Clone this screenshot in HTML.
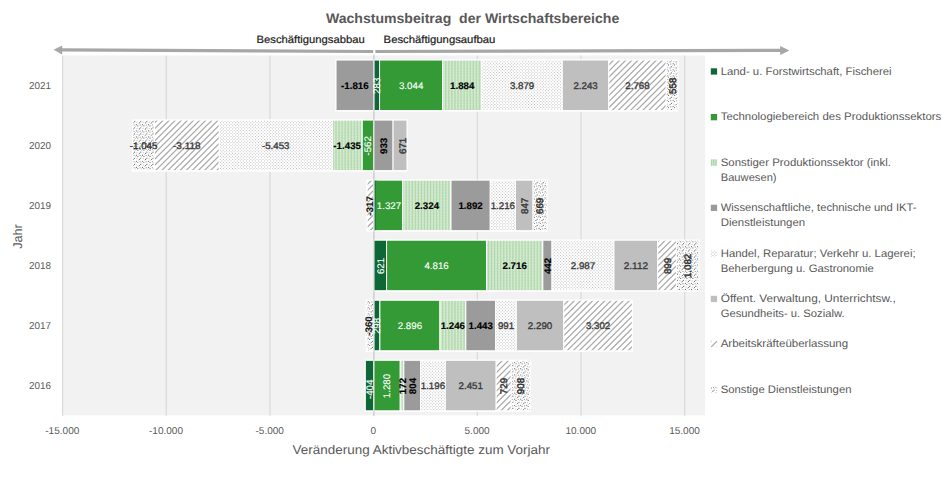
<!DOCTYPE html>
<html lang="de"><head><meta charset="utf-8"><title>Wachstumsbeitrag der Wirtschaftsbereiche</title>
<style>html,body{margin:0;padding:0;background:#fff;}body{width:945px;height:477px;overflow:hidden;font-family:"Liberation Sans",sans-serif;}svg{display:block;}</style></head>
<body>
<svg width="945" height="477" viewBox="0 0 945 477" font-family="'Liberation Sans', sans-serif" text-rendering="geometricPrecision">
<defs>
<g id="sd0">
<circle cx="0.40" cy="5.80" r="0.58" fill="#6c6c6c"/>
<circle cx="5.20" cy="0.80" r="0.58" fill="#6c6c6c"/>
<circle cx="2.20" cy="2.70" r="0.58" fill="#6c6c6c"/>
<circle cx="3.60" cy="3.90" r="0.58" fill="#6c6c6c"/>
<circle cx="2.80" cy="0.20" r="0.5" fill="#a2a2a2"/>
<circle cx="5.91" cy="3.10" r="0.5" fill="#a2a2a2"/>
<circle cx="5.90" cy="3.10" r="0.5" fill="#a2a2a2"/>
<circle cx="1.30" cy="4.30" r="0.45" fill="#a2a2a2"/>
<circle cx="4.10" cy="1.80" r="0.4" fill="#a2a2a2"/>
</g>
<g id="sd1"><use href="#sd0" x="-6.10"/><use href="#sd0" x="0.00"/><use href="#sd0" x="6.10"/><use href="#sd0" x="12.20"/><use href="#sd0" x="18.30"/><use href="#sd0" x="24.40"/><use href="#sd0" x="30.50"/><use href="#sd0" x="36.60"/><use href="#sd0" x="42.70"/><use href="#sd0" x="48.80"/><use href="#sd0" x="54.90"/><use href="#sd0" x="61.00"/></g>
<pattern id="pSdl" width="61" height="61" patternUnits="userSpaceOnUse"><rect width="61" height="61" fill="#ffffff"/><use href="#sd1" y="-6.10"/><use href="#sd1" y="0.00"/><use href="#sd1" y="6.10"/><use href="#sd1" y="12.20"/><use href="#sd1" y="18.30"/><use href="#sd1" y="24.40"/><use href="#sd1" y="30.50"/><use href="#sd1" y="36.60"/><use href="#sd1" y="42.70"/><use href="#sd1" y="48.80"/><use href="#sd1" y="54.90"/><use href="#sd1" y="61.00"/></pattern>
<pattern id="pArbk" width="61" height="61" patternUnits="userSpaceOnUse"><rect width="61" height="61" fill="#ffffff"/><path d="M-65.30,62 L-2.30,-1 M-59.20,62 L3.80,-1 M-53.10,62 L9.90,-1 M-47.00,62 L16.00,-1 M-40.90,62 L22.10,-1 M-34.80,62 L28.20,-1 M-28.70,62 L34.30,-1 M-22.60,62 L40.40,-1 M-16.50,62 L46.50,-1 M-10.40,62 L52.60,-1 M-4.30,62 L58.70,-1 M1.80,62 L64.80,-1 M7.90,62 L70.90,-1 M14.00,62 L77.00,-1 M20.10,62 L83.10,-1 M26.20,62 L89.20,-1 M32.30,62 L95.30,-1 M38.40,62 L101.40,-1 M44.50,62 L107.50,-1 M50.60,62 L113.60,-1 M56.70,62 L119.70,-1 M62.80,62 L125.80,-1 M68.90,62 L131.90,-1 " stroke="#ababab" stroke-width="1.25" fill="none"/></pattern>
<g id="hd0"><rect x="0.3" y="0.3" width="0.95" height="0.95"/><rect x="1.82" y="1.82" width="0.95" height="0.95"/></g>
<g id="hd1"><use href="#hd0" x="0.00"/><use href="#hd0" x="3.05"/><use href="#hd0" x="6.10"/><use href="#hd0" x="9.15"/><use href="#hd0" x="12.20"/><use href="#hd0" x="15.25"/><use href="#hd0" x="18.30"/><use href="#hd0" x="21.35"/><use href="#hd0" x="24.40"/><use href="#hd0" x="27.45"/><use href="#hd0" x="30.50"/><use href="#hd0" x="33.55"/><use href="#hd0" x="36.60"/><use href="#hd0" x="39.65"/><use href="#hd0" x="42.70"/><use href="#hd0" x="45.75"/><use href="#hd0" x="48.80"/><use href="#hd0" x="51.85"/><use href="#hd0" x="54.90"/><use href="#hd0" x="57.95"/></g>
<pattern id="pHand" width="61" height="61" patternUnits="userSpaceOnUse"><rect width="61" height="61" fill="#ffffff"/><g fill="#bcbcbc"><use href="#hd1" y="0.00"/><use href="#hd1" y="3.05"/><use href="#hd1" y="6.10"/><use href="#hd1" y="9.15"/><use href="#hd1" y="12.20"/><use href="#hd1" y="15.25"/><use href="#hd1" y="18.30"/><use href="#hd1" y="21.35"/><use href="#hd1" y="24.40"/><use href="#hd1" y="27.45"/><use href="#hd1" y="30.50"/><use href="#hd1" y="33.55"/><use href="#hd1" y="36.60"/><use href="#hd1" y="39.65"/><use href="#hd1" y="42.70"/><use href="#hd1" y="45.75"/><use href="#hd1" y="48.80"/><use href="#hd1" y="51.85"/><use href="#hd1" y="54.90"/><use href="#hd1" y="57.95"/></g></pattern>
<g id="pd0"><rect x="1.40" y="0.2" width="1.3" height="1.0"/><rect x="4.45" y="0.2" width="1.3" height="1.0"/><rect x="7.50" y="0.2" width="1.3" height="1.0"/><rect x="10.55" y="0.2" width="1.3" height="1.0"/><rect x="13.60" y="0.2" width="1.3" height="1.0"/><rect x="16.65" y="0.2" width="1.3" height="1.0"/><rect x="19.70" y="0.2" width="1.3" height="1.0"/><rect x="22.75" y="0.2" width="1.3" height="1.0"/><rect x="25.80" y="0.2" width="1.3" height="1.0"/><rect x="28.85" y="0.2" width="1.3" height="1.0"/><rect x="31.90" y="0.2" width="1.3" height="1.0"/><rect x="34.95" y="0.2" width="1.3" height="1.0"/><rect x="38.00" y="0.2" width="1.3" height="1.0"/><rect x="41.05" y="0.2" width="1.3" height="1.0"/><rect x="44.10" y="0.2" width="1.3" height="1.0"/><rect x="47.15" y="0.2" width="1.3" height="1.0"/><rect x="50.20" y="0.2" width="1.3" height="1.0"/><rect x="53.25" y="0.2" width="1.3" height="1.0"/><rect x="56.30" y="0.2" width="1.3" height="1.0"/><rect x="59.35" y="0.2" width="1.3" height="1.0"/></g>
<pattern id="pProd" width="61" height="61" patternUnits="userSpaceOnUse"><rect width="61" height="61" fill="#c5e2c1"/><rect x="0.00" y="0" width="1.0" height="61" fill="#b0d8ac"/><rect x="3.05" y="0" width="1.0" height="61" fill="#b0d8ac"/><rect x="6.10" y="0" width="1.0" height="61" fill="#b0d8ac"/><rect x="9.15" y="0" width="1.0" height="61" fill="#b0d8ac"/><rect x="12.20" y="0" width="1.0" height="61" fill="#b0d8ac"/><rect x="15.25" y="0" width="1.0" height="61" fill="#b0d8ac"/><rect x="18.30" y="0" width="1.0" height="61" fill="#b0d8ac"/><rect x="21.35" y="0" width="1.0" height="61" fill="#b0d8ac"/><rect x="24.40" y="0" width="1.0" height="61" fill="#b0d8ac"/><rect x="27.45" y="0" width="1.0" height="61" fill="#b0d8ac"/><rect x="30.50" y="0" width="1.0" height="61" fill="#b0d8ac"/><rect x="33.55" y="0" width="1.0" height="61" fill="#b0d8ac"/><rect x="36.60" y="0" width="1.0" height="61" fill="#b0d8ac"/><rect x="39.65" y="0" width="1.0" height="61" fill="#b0d8ac"/><rect x="42.70" y="0" width="1.0" height="61" fill="#b0d8ac"/><rect x="45.75" y="0" width="1.0" height="61" fill="#b0d8ac"/><rect x="48.80" y="0" width="1.0" height="61" fill="#b0d8ac"/><rect x="51.85" y="0" width="1.0" height="61" fill="#b0d8ac"/><rect x="54.90" y="0" width="1.0" height="61" fill="#b0d8ac"/><rect x="57.95" y="0" width="1.0" height="61" fill="#b0d8ac"/><g fill="#dbeed8"><use href="#pd0" y="0.000"/><use href="#pd0" y="1.525"/><use href="#pd0" y="3.050"/><use href="#pd0" y="4.575"/><use href="#pd0" y="6.100"/><use href="#pd0" y="7.625"/><use href="#pd0" y="9.150"/><use href="#pd0" y="10.675"/><use href="#pd0" y="12.200"/><use href="#pd0" y="13.725"/><use href="#pd0" y="15.250"/><use href="#pd0" y="16.775"/><use href="#pd0" y="18.300"/><use href="#pd0" y="19.825"/><use href="#pd0" y="21.350"/><use href="#pd0" y="22.875"/><use href="#pd0" y="24.400"/><use href="#pd0" y="25.925"/><use href="#pd0" y="27.450"/><use href="#pd0" y="28.975"/><use href="#pd0" y="30.500"/><use href="#pd0" y="32.025"/><use href="#pd0" y="33.550"/><use href="#pd0" y="35.075"/><use href="#pd0" y="36.600"/><use href="#pd0" y="38.125"/><use href="#pd0" y="39.650"/><use href="#pd0" y="41.175"/><use href="#pd0" y="42.700"/><use href="#pd0" y="44.225"/><use href="#pd0" y="45.750"/><use href="#pd0" y="47.275"/><use href="#pd0" y="48.800"/><use href="#pd0" y="50.325"/><use href="#pd0" y="51.850"/><use href="#pd0" y="53.375"/><use href="#pd0" y="54.900"/><use href="#pd0" y="56.425"/><use href="#pd0" y="57.950"/><use href="#pd0" y="59.475"/></g></pattern>
</defs>
<rect width="945" height="477" fill="#ffffff"/>
<rect x="61.9" y="55.5" width="643.2" height="359.8" fill="#f2f2f2"/>
<rect x="62.00" y="55.5" width="1.2" height="360.40000000000003" fill="#dadada"/>
<rect x="165.68" y="55.5" width="1.2" height="360.40000000000003" fill="#dadada"/>
<rect x="269.36" y="55.5" width="1.2" height="360.40000000000003" fill="#dadada"/>
<rect x="373.04" y="55.5" width="1.2" height="360.40000000000003" fill="#dadada"/>
<rect x="476.72" y="55.5" width="1.2" height="360.40000000000003" fill="#dadada"/>
<rect x="580.40" y="55.5" width="1.2" height="360.40000000000003" fill="#dadada"/>
<rect x="684.08" y="55.5" width="1.2" height="360.40000000000003" fill="#dadada"/>
<rect x="335.53" y="59.53" width="342.77" height="52.14" fill="#ffffff"/>
<rect x="373.70" y="60.03" width="5.87" height="50.54" fill="#0d6737" stroke="#ffffff" stroke-width="1.0"/>
<rect x="379.57" y="60.03" width="63.15" height="50.54" fill="#339a35" stroke="#ffffff" stroke-width="1.0"/>
<rect x="442.72" y="60.03" width="39.08" height="50.54" fill="url(#pProd)" stroke="#ffffff" stroke-width="1.0"/>
<rect x="336.03" y="60.03" width="37.67" height="50.54" fill="#9b9b9b" stroke="#ffffff" stroke-width="1.0"/>
<rect x="481.80" y="60.03" width="80.47" height="50.54" fill="url(#pHand)" stroke="#ffffff" stroke-width="1.0"/>
<rect x="562.27" y="60.03" width="46.53" height="50.54" fill="#bfbfbf" stroke="#ffffff" stroke-width="1.0"/>
<rect x="608.80" y="60.03" width="57.42" height="50.54" fill="url(#pArbk)" stroke="#ffffff" stroke-width="1.0"/>
<rect x="666.23" y="60.03" width="11.58" height="50.54" fill="url(#pSdl)" stroke="#ffffff" stroke-width="1.0"/>
<rect x="132.29" y="119.58" width="275.19" height="52.14" fill="#ffffff"/>
<rect x="362.04" y="120.08" width="11.66" height="50.54" fill="#339a35" stroke="#ffffff" stroke-width="1.0"/>
<rect x="332.27" y="120.08" width="29.77" height="50.54" fill="url(#pProd)" stroke="#ffffff" stroke-width="1.0"/>
<rect x="373.70" y="120.08" width="19.36" height="50.54" fill="#9b9b9b" stroke="#ffffff" stroke-width="1.0"/>
<rect x="219.15" y="120.08" width="113.12" height="50.54" fill="url(#pHand)" stroke="#ffffff" stroke-width="1.0"/>
<rect x="393.06" y="120.08" width="13.92" height="50.54" fill="#bfbfbf" stroke="#ffffff" stroke-width="1.0"/>
<rect x="154.47" y="120.08" width="64.68" height="50.54" fill="url(#pArbk)" stroke="#ffffff" stroke-width="1.0"/>
<rect x="132.79" y="120.08" width="21.68" height="50.54" fill="url(#pSdl)" stroke="#ffffff" stroke-width="1.0"/>
<rect x="366.62" y="179.63" width="180.80" height="52.14" fill="#ffffff"/>
<rect x="373.70" y="180.13" width="1.56" height="50.54" fill="#0d6737" stroke="#ffffff" stroke-width="1.0"/>
<rect x="375.26" y="180.13" width="27.53" height="50.54" fill="#339a35" stroke="#ffffff" stroke-width="1.0"/>
<rect x="374.70" y="180.63" width="2.2" height="49.54" fill="#339a35"/>
<rect x="374.35" y="180.63" width="1.2" height="49.54" fill="#0d6737"/>
<rect x="402.78" y="180.13" width="48.21" height="50.54" fill="url(#pProd)" stroke="#ffffff" stroke-width="1.0"/>
<rect x="451.00" y="180.13" width="39.25" height="50.54" fill="#9b9b9b" stroke="#ffffff" stroke-width="1.0"/>
<rect x="490.25" y="180.13" width="25.23" height="50.54" fill="url(#pHand)" stroke="#ffffff" stroke-width="1.0"/>
<rect x="515.47" y="180.13" width="17.57" height="50.54" fill="#bfbfbf" stroke="#ffffff" stroke-width="1.0"/>
<rect x="367.12" y="180.13" width="6.58" height="50.54" fill="url(#pArbk)" stroke="#ffffff" stroke-width="1.0"/>
<rect x="533.04" y="180.13" width="13.88" height="50.54" fill="url(#pSdl)" stroke="#ffffff" stroke-width="1.0"/>
<rect x="373.20" y="239.68" width="326.18" height="52.14" fill="#ffffff"/>
<rect x="373.70" y="240.18" width="12.88" height="50.54" fill="#0d6737" stroke="#ffffff" stroke-width="1.0"/>
<rect x="386.58" y="240.18" width="99.91" height="50.54" fill="#339a35" stroke="#ffffff" stroke-width="1.0"/>
<rect x="486.49" y="240.18" width="56.34" height="50.54" fill="url(#pProd)" stroke="#ffffff" stroke-width="1.0"/>
<rect x="542.83" y="240.18" width="9.17" height="50.54" fill="#9b9b9b" stroke="#ffffff" stroke-width="1.0"/>
<rect x="552.00" y="240.18" width="61.97" height="50.54" fill="url(#pHand)" stroke="#ffffff" stroke-width="1.0"/>
<rect x="613.97" y="240.18" width="43.81" height="50.54" fill="#bfbfbf" stroke="#ffffff" stroke-width="1.0"/>
<rect x="657.78" y="240.18" width="18.65" height="50.54" fill="url(#pArbk)" stroke="#ffffff" stroke-width="1.0"/>
<rect x="676.43" y="240.18" width="22.45" height="50.54" fill="url(#pSdl)" stroke="#ffffff" stroke-width="1.0"/>
<rect x="365.73" y="299.73" width="267.08" height="52.14" fill="#ffffff"/>
<rect x="373.70" y="300.23" width="6.18" height="50.54" fill="#0d6737" stroke="#ffffff" stroke-width="1.0"/>
<rect x="379.88" y="300.23" width="60.08" height="50.54" fill="#339a35" stroke="#ffffff" stroke-width="1.0"/>
<rect x="439.96" y="300.23" width="25.85" height="50.54" fill="url(#pProd)" stroke="#ffffff" stroke-width="1.0"/>
<rect x="465.81" y="300.23" width="29.94" height="50.54" fill="#9b9b9b" stroke="#ffffff" stroke-width="1.0"/>
<rect x="495.74" y="300.23" width="20.56" height="50.54" fill="url(#pHand)" stroke="#ffffff" stroke-width="1.0"/>
<rect x="516.30" y="300.23" width="47.51" height="50.54" fill="#bfbfbf" stroke="#ffffff" stroke-width="1.0"/>
<rect x="563.81" y="300.23" width="68.50" height="50.54" fill="url(#pArbk)" stroke="#ffffff" stroke-width="1.0"/>
<rect x="366.23" y="300.23" width="7.47" height="50.54" fill="url(#pSdl)" stroke="#ffffff" stroke-width="1.0"/>
<rect x="364.82" y="359.78" width="165.80" height="52.14" fill="#ffffff"/>
<rect x="365.32" y="360.28" width="8.38" height="50.54" fill="#0d6737" stroke="#ffffff" stroke-width="1.0"/>
<rect x="373.70" y="360.28" width="26.55" height="50.54" fill="#339a35" stroke="#ffffff" stroke-width="1.0"/>
<rect x="400.25" y="360.28" width="3.57" height="50.54" fill="url(#pProd)" stroke="#ffffff" stroke-width="1.0"/>
<rect x="403.82" y="360.28" width="16.68" height="50.54" fill="#9b9b9b" stroke="#ffffff" stroke-width="1.0"/>
<rect x="420.50" y="360.28" width="24.81" height="50.54" fill="url(#pHand)" stroke="#ffffff" stroke-width="1.0"/>
<rect x="445.31" y="360.28" width="50.85" height="50.54" fill="#bfbfbf" stroke="#ffffff" stroke-width="1.0"/>
<rect x="496.16" y="360.28" width="15.12" height="50.54" fill="url(#pArbk)" stroke="#ffffff" stroke-width="1.0"/>
<rect x="511.28" y="360.28" width="18.84" height="50.54" fill="url(#pSdl)" stroke="#ffffff" stroke-width="1.0"/>
<rect x="373.35" y="54.5" width="1.3" height="361.40000000000003" fill="#cdcdcd" fill-opacity="0.8"/>
<text transform="translate(380.14,85.80) rotate(-90)" font-size="9.6" text-anchor="middle" fill="#ffffff" stroke="#ffffff" stroke-width="0.12" textLength="16.23" lengthAdjust="spacingAndGlyphs">283</text>
<text x="411.14" y="88.50" font-size="9.6" text-anchor="middle" fill="#ffffff" stroke="#ffffff" stroke-width="0.12" textLength="24.33" lengthAdjust="spacingAndGlyphs">3.044</text>
<text x="462.26" y="88.50" font-size="9.6" text-anchor="middle" fill="#000000" font-weight="bold" stroke="#000000" stroke-width="0.15" textLength="24.33" lengthAdjust="spacingAndGlyphs">1.884</text>
<text x="354.86" y="88.50" font-size="9.6" text-anchor="middle" fill="#000000" font-weight="bold" stroke="#000000" stroke-width="0.15" textLength="27.59" lengthAdjust="spacingAndGlyphs">-1.816</text>
<text x="522.04" y="88.50" font-size="9.6" text-anchor="middle" fill="#3c3c3c" stroke="#3c3c3c" stroke-width="0.35" textLength="24.33" lengthAdjust="spacingAndGlyphs">3.879</text>
<text x="585.54" y="88.50" font-size="9.6" text-anchor="middle" fill="#3c3c3c" stroke="#3c3c3c" stroke-width="0.35" textLength="24.33" lengthAdjust="spacingAndGlyphs">2.243</text>
<text x="637.51" y="88.50" font-size="9.6" text-anchor="middle" fill="#3c3c3c" stroke="#3c3c3c" stroke-width="0.35" textLength="24.33" lengthAdjust="spacingAndGlyphs">2.768</text>
<text transform="translate(675.51,85.80) rotate(-90)" font-size="9.6" text-anchor="middle" fill="#303030" stroke="#303030" stroke-width="0.45" textLength="16.23" lengthAdjust="spacingAndGlyphs">558</text>
<text transform="translate(371.37,145.85) rotate(-90)" font-size="9.6" text-anchor="middle" fill="#ffffff" stroke="#ffffff" stroke-width="0.12" textLength="19.49" lengthAdjust="spacingAndGlyphs">-562</text>
<text x="347.16" y="148.55" font-size="9.6" text-anchor="middle" fill="#000000" font-weight="bold" stroke="#000000" stroke-width="0.15" textLength="27.59" lengthAdjust="spacingAndGlyphs">-1.435</text>
<text transform="translate(386.88,145.85) rotate(-90)" font-size="9.6" text-anchor="middle" fill="#000000" font-weight="bold" stroke="#000000" stroke-width="0.15" textLength="16.23" lengthAdjust="spacingAndGlyphs">933</text>
<text x="275.71" y="148.55" font-size="9.6" text-anchor="middle" fill="#3c3c3c" stroke="#3c3c3c" stroke-width="0.35" textLength="27.59" lengthAdjust="spacingAndGlyphs">-5.453</text>
<text transform="translate(406.32,145.85) rotate(-90)" font-size="9.6" text-anchor="middle" fill="#3c3c3c" stroke="#3c3c3c" stroke-width="0.45" textLength="16.23" lengthAdjust="spacingAndGlyphs">671</text>
<text x="186.81" y="148.55" font-size="9.6" text-anchor="middle" fill="#3c3c3c" stroke="#3c3c3c" stroke-width="0.35" textLength="27.59" lengthAdjust="spacingAndGlyphs">-3.118</text>
<text x="143.63" y="148.55" font-size="9.6" text-anchor="middle" fill="#303030" stroke="#303030" stroke-width="0.35" textLength="27.59" lengthAdjust="spacingAndGlyphs">-1.045</text>
<text x="389.02" y="208.60" font-size="9.6" text-anchor="middle" fill="#ffffff" stroke="#ffffff" stroke-width="0.12" textLength="24.33" lengthAdjust="spacingAndGlyphs">1.327</text>
<text x="426.89" y="208.60" font-size="9.6" text-anchor="middle" fill="#000000" font-weight="bold" stroke="#000000" stroke-width="0.15" textLength="24.33" lengthAdjust="spacingAndGlyphs">2.324</text>
<text x="470.62" y="208.60" font-size="9.6" text-anchor="middle" fill="#000000" font-weight="bold" stroke="#000000" stroke-width="0.15" textLength="24.33" lengthAdjust="spacingAndGlyphs">1.892</text>
<text x="502.86" y="208.60" font-size="9.6" text-anchor="middle" fill="#3c3c3c" stroke="#3c3c3c" stroke-width="0.35" textLength="24.33" lengthAdjust="spacingAndGlyphs">1.216</text>
<text transform="translate(527.76,205.90) rotate(-90)" font-size="9.6" text-anchor="middle" fill="#3c3c3c" stroke="#3c3c3c" stroke-width="0.45" textLength="16.23" lengthAdjust="spacingAndGlyphs">847</text>
<text transform="translate(372.61,205.90) rotate(-90)" font-size="9.6" text-anchor="middle" fill="#1a1a1a" font-weight="bold" stroke="#1a1a1a" stroke-width="0.15" textLength="19.49" lengthAdjust="spacingAndGlyphs">-317</text>
<text transform="translate(543.48,205.90) rotate(-90)" font-size="9.6" text-anchor="middle" fill="#303030" stroke="#303030" stroke-width="0.45" textLength="16.23" lengthAdjust="spacingAndGlyphs">669</text>
<text transform="translate(383.64,265.95) rotate(-90)" font-size="9.6" text-anchor="middle" fill="#ffffff" stroke="#ffffff" stroke-width="0.12" textLength="16.23" lengthAdjust="spacingAndGlyphs">621</text>
<text x="436.54" y="268.65" font-size="9.6" text-anchor="middle" fill="#ffffff" stroke="#ffffff" stroke-width="0.12" textLength="24.33" lengthAdjust="spacingAndGlyphs">4.816</text>
<text x="514.66" y="268.65" font-size="9.6" text-anchor="middle" fill="#000000" font-weight="bold" stroke="#000000" stroke-width="0.15" textLength="24.33" lengthAdjust="spacingAndGlyphs">2.716</text>
<text transform="translate(550.92,265.95) rotate(-90)" font-size="9.6" text-anchor="middle" fill="#000000" font-weight="bold" stroke="#000000" stroke-width="0.15" textLength="16.23" lengthAdjust="spacingAndGlyphs">442</text>
<text x="582.99" y="268.65" font-size="9.6" text-anchor="middle" fill="#3c3c3c" stroke="#3c3c3c" stroke-width="0.35" textLength="24.33" lengthAdjust="spacingAndGlyphs">2.987</text>
<text x="635.88" y="268.65" font-size="9.6" text-anchor="middle" fill="#3c3c3c" stroke="#3c3c3c" stroke-width="0.35" textLength="24.33" lengthAdjust="spacingAndGlyphs">2.112</text>
<text transform="translate(670.61,265.95) rotate(-90)" font-size="9.6" text-anchor="middle" fill="#3c3c3c" stroke="#3c3c3c" stroke-width="0.45" textLength="16.23" lengthAdjust="spacingAndGlyphs">899</text>
<text transform="translate(691.15,265.95) rotate(-90)" font-size="9.6" text-anchor="middle" fill="#303030" stroke="#303030" stroke-width="0.45" textLength="24.33" lengthAdjust="spacingAndGlyphs">1.082</text>
<text transform="translate(380.29,326.00) rotate(-90)" font-size="9.6" text-anchor="middle" fill="#ffffff" stroke="#ffffff" stroke-width="0.12" textLength="16.23" lengthAdjust="spacingAndGlyphs">298</text>
<text x="409.92" y="328.70" font-size="9.6" text-anchor="middle" fill="#ffffff" stroke="#ffffff" stroke-width="0.12" textLength="24.33" lengthAdjust="spacingAndGlyphs">2.896</text>
<text x="452.88" y="328.70" font-size="9.6" text-anchor="middle" fill="#000000" font-weight="bold" stroke="#000000" stroke-width="0.15" textLength="24.33" lengthAdjust="spacingAndGlyphs">1.246</text>
<text x="480.78" y="328.70" font-size="9.6" text-anchor="middle" fill="#000000" font-weight="bold" stroke="#000000" stroke-width="0.15" textLength="24.33" lengthAdjust="spacingAndGlyphs">1.443</text>
<text x="506.02" y="328.70" font-size="9.6" text-anchor="middle" fill="#3c3c3c" stroke="#3c3c3c" stroke-width="0.35" textLength="16.23" lengthAdjust="spacingAndGlyphs">991</text>
<text x="540.05" y="328.70" font-size="9.6" text-anchor="middle" fill="#3c3c3c" stroke="#3c3c3c" stroke-width="0.35" textLength="24.33" lengthAdjust="spacingAndGlyphs">2.290</text>
<text x="598.06" y="328.70" font-size="9.6" text-anchor="middle" fill="#3c3c3c" stroke="#3c3c3c" stroke-width="0.35" textLength="24.33" lengthAdjust="spacingAndGlyphs">3.302</text>
<text transform="translate(371.97,326.00) rotate(-90)" font-size="9.6" text-anchor="middle" fill="#1a1a1a" font-weight="bold" stroke="#1a1a1a" stroke-width="0.15" textLength="19.49" lengthAdjust="spacingAndGlyphs">-360</text>
<text transform="translate(373.01,389.35) rotate(-90)" font-size="9.6" text-anchor="middle" fill="#ffffff" stroke="#ffffff" stroke-width="0.12" textLength="19.49" lengthAdjust="spacingAndGlyphs">-404</text>
<text transform="translate(390.48,386.05) rotate(-90)" font-size="9.6" text-anchor="middle" fill="#ffffff" stroke="#ffffff" stroke-width="0.12" textLength="24.33" lengthAdjust="spacingAndGlyphs">1.280</text>
<text transform="translate(405.54,386.05) rotate(-90)" font-size="9.6" text-anchor="middle" fill="#000000" font-weight="bold" stroke="#000000" stroke-width="0.15" textLength="16.23" lengthAdjust="spacingAndGlyphs">172</text>
<text transform="translate(415.66,386.05) rotate(-90)" font-size="9.6" text-anchor="middle" fill="#000000" font-weight="bold" stroke="#000000" stroke-width="0.15" textLength="16.23" lengthAdjust="spacingAndGlyphs">804</text>
<text x="432.91" y="388.75" font-size="9.6" text-anchor="middle" fill="#3c3c3c" stroke="#3c3c3c" stroke-width="0.35" textLength="24.33" lengthAdjust="spacingAndGlyphs">1.196</text>
<text x="470.73" y="388.75" font-size="9.6" text-anchor="middle" fill="#3c3c3c" stroke="#3c3c3c" stroke-width="0.35" textLength="24.33" lengthAdjust="spacingAndGlyphs">2.451</text>
<text transform="translate(507.22,386.05) rotate(-90)" font-size="9.6" text-anchor="middle" fill="#3c3c3c" stroke="#3c3c3c" stroke-width="0.45" textLength="16.23" lengthAdjust="spacingAndGlyphs">729</text>
<text transform="translate(524.20,386.05) rotate(-90)" font-size="9.6" text-anchor="middle" fill="#303030" stroke="#303030" stroke-width="0.45" textLength="16.23" lengthAdjust="spacingAndGlyphs">908</text>
<path d="M61.5,49.9 L373.1,51.5" stroke="#a7a7a7" stroke-width="3.2" fill="none"/>
<path d="M53.5,49.85 L62.2,45.4 L62.2,54.4 Z" fill="#a7a7a7"/>
<path d="M375.4,51.5 L781,50.4" stroke="#a7a7a7" stroke-width="3.2" fill="none"/>
<path d="M789.4,50.4 L780.2,45.9 L780.2,54.9 Z" fill="#a7a7a7"/>
<text x="325.9" y="22.5" font-size="13.8" fill="#595959" text-anchor="start" font-weight="bold" textLength="293.4" lengthAdjust="spacingAndGlyphs" xml:space="preserve">Wachstumsbeitrag  der Wirtschaftsbereiche</text>
<text x="256.5" y="43.2" font-size="10.7" fill="#1c1c1c" text-anchor="start" textLength="108.2" lengthAdjust="spacingAndGlyphs" stroke="#1c1c1c" stroke-width="0.2" xml:space="preserve">Beschäftigungsabbau</text>
<text x="383.6" y="43.2" font-size="10.7" fill="#1c1c1c" text-anchor="start" textLength="111.8" lengthAdjust="spacingAndGlyphs" stroke="#1c1c1c" stroke-width="0.2" xml:space="preserve">Beschäftigungsaufbau</text>
<text x="29" y="89.2" font-size="10" fill="#595959" text-anchor="start" textLength="22" lengthAdjust="spacingAndGlyphs" xml:space="preserve">2021</text>
<text x="29" y="149.25" font-size="10" fill="#595959" text-anchor="start" textLength="22" lengthAdjust="spacingAndGlyphs" xml:space="preserve">2020</text>
<text x="29" y="209.3" font-size="10" fill="#595959" text-anchor="start" textLength="22" lengthAdjust="spacingAndGlyphs" xml:space="preserve">2019</text>
<text x="29" y="269.34999999999997" font-size="10" fill="#595959" text-anchor="start" textLength="22" lengthAdjust="spacingAndGlyphs" xml:space="preserve">2018</text>
<text x="29" y="329.4" font-size="10" fill="#595959" text-anchor="start" textLength="22" lengthAdjust="spacingAndGlyphs" xml:space="preserve">2017</text>
<text x="29" y="389.45" font-size="10" fill="#595959" text-anchor="start" textLength="22" lengthAdjust="spacingAndGlyphs" xml:space="preserve">2016</text>
<text transform="translate(22.4,236.5) rotate(-90)" font-size="12.6" fill="#595959" text-anchor="middle" textLength="24.6" lengthAdjust="spacingAndGlyphs">Jahr</text>
<text x="62.30" y="434.1" font-size="10" fill="#595959" text-anchor="middle" textLength="34.02" lengthAdjust="spacingAndGlyphs">-15.000</text>
<text x="166.00" y="434.1" font-size="10" fill="#595959" text-anchor="middle" textLength="34.02" lengthAdjust="spacingAndGlyphs">-10.000</text>
<text x="269.70" y="434.1" font-size="10" fill="#595959" text-anchor="middle" textLength="28.45" lengthAdjust="spacingAndGlyphs">-5.000</text>
<text x="373.40" y="434.1" font-size="10" fill="#595959" text-anchor="middle" textLength="5.58" lengthAdjust="spacingAndGlyphs">0</text>
<text x="477.10" y="434.1" font-size="10" fill="#595959" text-anchor="middle" textLength="25.08" lengthAdjust="spacingAndGlyphs">5.000</text>
<text x="580.80" y="434.1" font-size="10" fill="#595959" text-anchor="middle" textLength="30.66" lengthAdjust="spacingAndGlyphs">10.000</text>
<text x="684.50" y="434.1" font-size="10" fill="#595959" text-anchor="middle" textLength="30.66" lengthAdjust="spacingAndGlyphs">15.000</text>
<text x="292.6" y="454.4" font-size="12.6" fill="#595959" text-anchor="start" textLength="257.4" lengthAdjust="spacingAndGlyphs" xml:space="preserve">Veränderung Aktivbeschäftigte zum Vorjahr</text>
<rect x="710.8" y="68.30" width="6.3" height="6.3" fill="#0d6737"/>
<text x="720.7" y="74.6" font-size="10.9" fill="#595959" text-anchor="start" textLength="170.9" lengthAdjust="spacingAndGlyphs" xml:space="preserve">Land- u. Forstwirtschaft, Fischerei</text>
<rect x="710.8" y="114.00" width="6.3" height="6.3" fill="#339a35"/>
<text x="720.7" y="120.3" font-size="10.9" fill="#595959" text-anchor="start" textLength="220.6" lengthAdjust="spacingAndGlyphs" xml:space="preserve">Technologiebereich des Produktionssektors</text>
<rect x="710.8" y="159.40" width="6.3" height="6.3" fill="#d9edd6"/>
<rect x="711.3" y="159.40" width="0.9" height="6.3" fill="#93cd90"/>
<rect x="713.4" y="159.40" width="0.9" height="6.3" fill="#93cd90"/>
<rect x="715.5" y="159.40" width="0.9" height="6.3" fill="#93cd90"/>
<text x="720.7" y="165.7" font-size="10.9" fill="#595959" text-anchor="start" textLength="170.20000000000002" lengthAdjust="spacingAndGlyphs" xml:space="preserve">Sonstiger Produktionssektor (inkl.</text>
<text x="720.7" y="180.89999999999998" font-size="10.9" fill="#595959" text-anchor="start" textLength="55.9" lengthAdjust="spacingAndGlyphs" xml:space="preserve">Bauwesen)</text>
<rect x="710.8" y="204.70" width="6.3" height="6.3" fill="#9b9b9b"/>
<text x="720.7" y="211.0" font-size="10.9" fill="#595959" text-anchor="start" textLength="195.9" lengthAdjust="spacingAndGlyphs" xml:space="preserve">Wissenschaftliche, technische und IKT-</text>
<text x="720.7" y="226.2" font-size="10.9" fill="#595959" text-anchor="start" textLength="84.5" lengthAdjust="spacingAndGlyphs" xml:space="preserve">Dienstleistungen</text>
<rect x="710.8" y="250.50" width="6.3" height="6.3" fill="url(#pHand)"/>
<text x="720.7" y="256.8" font-size="10.9" fill="#595959" text-anchor="start" textLength="194.9" lengthAdjust="spacingAndGlyphs" xml:space="preserve">Handel, Reparatur; Verkehr u. Lagerei;</text>
<text x="720.7" y="272.0" font-size="10.9" fill="#595959" text-anchor="start" textLength="153.1" lengthAdjust="spacingAndGlyphs" xml:space="preserve">Beherbergung u. Gastronomie</text>
<rect x="710.8" y="295.80" width="6.3" height="6.3" fill="#bfbfbf"/>
<text x="720.7" y="302.1" font-size="10.9" fill="#595959" text-anchor="start" textLength="175.20000000000002" lengthAdjust="spacingAndGlyphs" xml:space="preserve">Öffent. Verwaltung, Unterrichtsw.,</text>
<text x="720.7" y="317.3" font-size="10.9" fill="#595959" text-anchor="start" textLength="123.9" lengthAdjust="spacingAndGlyphs" xml:space="preserve">Gesundheits- u. Sozialw.</text>
<rect x="710.8" y="340.80" width="6.3" height="6.3" fill="url(#pArbk)"/>
<text x="720.7" y="347.1" font-size="10.9" fill="#595959" text-anchor="start" textLength="127.5" lengthAdjust="spacingAndGlyphs" xml:space="preserve">Arbeitskräfteüberlassung</text>
<rect x="710.8" y="386.80" width="6.3" height="6.3" fill="url(#pSdl)"/>
<text x="720.7" y="393.1" font-size="10.9" fill="#595959" text-anchor="start" textLength="130.8" lengthAdjust="spacingAndGlyphs" xml:space="preserve">Sonstige Dienstleistungen</text>
</svg>
</body></html>
